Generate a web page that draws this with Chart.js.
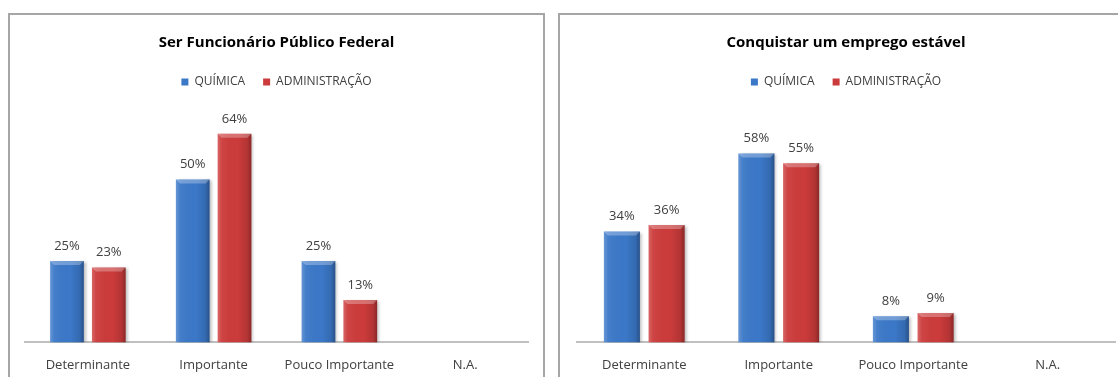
<!DOCTYPE html>
<html lang="pt-BR">
<head>
<meta charset="UTF-8" />
<title>Funcionário Público / Emprego estável</title>
<style>
  body { margin: 0; background: #fff; width: 1118px; height: 377px; overflow: hidden; position: relative; }
  .painel { position: absolute; top: 13px; height: 420px; border: 2px solid #a6a6a6; background: #fff; }
  #p1 { left: 8px; width: 533px; }
  #p2 { left: 558px; width: 620px; }
  .painel canvas { position: absolute; left: 0; top: 0; }
</style>
</head>
<body>
<div class="painel" id="p1"><canvas id="federal" width="533" height="378"></canvas></div>
<div class="painel" id="p2"><canvas id="estavel" width="558" height="378"></canvas></div>
<script src="https://cdn.jsdelivr.net/npm/chart.js"></script>
<script>
const categorias = ["Determinante", "Importante", "Pouco Importante", "N.A."];
const series = ["QUÍMICA", "ADMINISTRAÇÃO"];
// valores em %
const quimicaFederal = [25, 50, 25, 0];
const admFederal = [23, 64, 13, 0];
const quimicaEstavel = [34, 58, 8, 0];
const admEstavel = [36, 55, 9, 0];

const AZUL = "#3b78c8";
const VERMELHO = "#cc3b3b";
const FONTE = "'Open Sans', 'Noto Sans', sans-serif";

Chart.defaults.font.family = FONTE;

// sombra leve por trás das barras
const sombra = {
  id: "sombra",
  beforeDatasetsDraw(chart) {
    const c = chart.ctx;
    c.save();
    c.shadowColor = "rgba(0,0,0,0.28)";
    c.shadowBlur = 3;
    c.shadowOffsetX = 2;
    c.shadowOffsetY = 1;
  },
  afterDatasetsDraw(chart) {
    chart.ctx.restore();
  }
};

// relevo: brilho à esquerda, escurece à direita e chanfro no topo
const relevo = {
  id: "relevo",
  afterDatasetsDraw(chart) {
    const c = chart.ctx;
    chart.data.datasets.forEach((ds, i) => {
      chart.getDatasetMeta(i).data.forEach((bar, j) => {
        if (!ds.data[j]) return;
        const esq = bar.x - bar.width / 2, dir = bar.x + bar.width / 2;
        const topo = bar.y, base = bar.base;
        const g = c.createLinearGradient(esq, 0, dir, 0);
        g.addColorStop(0, "rgba(255,255,255,0.22)");
        g.addColorStop(0.12, "rgba(255,255,255,0.05)");
        g.addColorStop(0.6, "rgba(0,0,0,0)");
        g.addColorStop(0.88, "rgba(0,0,0,0.12)");
        g.addColorStop(1, "rgba(0,0,0,0.32)");
        c.save();
        c.fillStyle = g;
        c.fillRect(esq, topo, bar.width, base - topo);
        const b = 4;
        c.beginPath();
        c.moveTo(esq, topo);
        c.lineTo(dir, topo);
        c.lineTo(dir - b, topo + b);
        c.lineTo(esq + b, topo + b);
        c.closePath();
        c.fillStyle = "rgba(255,255,255,0.28)";
        c.fill();
        c.restore();
      });
    });
  }
};

// rótulos de valor acima das barras
const rotulos = {
  id: "rotulos",
  afterDatasetsDraw(chart) {
    const c = chart.ctx;
    c.save();
    c.font = "13px " + FONTE;
    c.fillStyle = "#404040";
    c.textAlign = "center";
    c.textBaseline = "middle";
    chart.data.datasets.forEach((ds, i) => {
      chart.getDatasetMeta(i).data.forEach((bar, j) => {
        if (!ds.data[j]) return;
        c.fillText(ds.data[j] + "%", bar.x, bar.y - 15);
      });
    });
    c.restore();
  }
};

function grafico(id, titulo, quimica, adm, padEsq, padDir) {
  return new Chart(document.getElementById(id), {
    type: "bar",
    data: {
      labels: categorias,
      datasets: [
        { label: series[0], data: quimica, backgroundColor: AZUL, borderWidth: 0 },
        { label: series[1], data: adm, backgroundColor: VERMELHO, borderWidth: 0 }
      ]
    },
    options: {
      responsive: false,
      animation: false,
      events: [],
      layout: { padding: { left: padEsq, right: padDir, top: 0, bottom: 5 } },
      datasets: { bar: { categoryPercentage: 0.665, barPercentage: 0.805 } },
      plugins: {
        title: {
          display: true,
          text: titulo,
          color: "#000",
          font: { size: 15, weight: "bold" },
          padding: { top: 19, bottom: 6 }
        },
        legend: {
          labels: { boxWidth: 7, boxHeight: 7, color: "#404040", font: { size: 12 }, padding: 18 }
        },
        tooltip: { enabled: false }
      },
      scales: {
        x: {
          grid: { display: false, drawTicks: false },
          border: { color: "#c0c0c0", width: 2 },
          ticks: { color: "#404040", font: { size: 13 }, padding: 15 }
        },
        y: { display: false, min: 0, max: 75 }
      }
    },
    plugins: [sombra, relevo, rotulos]
  });
}

grafico("federal", "Ser Funcionário Público Federal", quimicaFederal, admFederal, 15, 15);
grafico("estavel", "Conquistar um emprego estável", quimicaEstavel, admEstavel, 17, 3);
</script>
</body>
</html>
